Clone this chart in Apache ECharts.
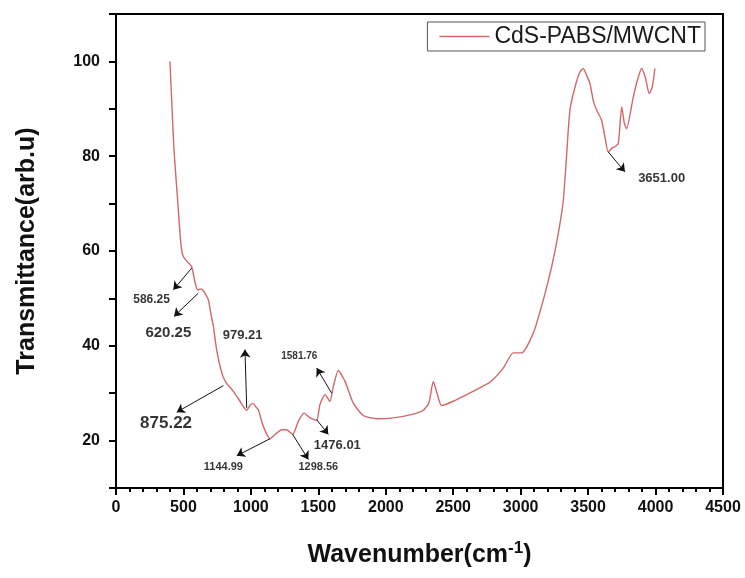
<!DOCTYPE html>
<html>
<head>
<meta charset="utf-8">
<script src="https://cdn.jsdelivr.net/npm/echarts@6/dist/echarts.min.js"></script>
<style>
  html, body { margin: 0; padding: 0; background: #fff; }
  #chart { width: 745px; height: 578px; }
</style>
</head>
<body>
<div id="chart"></div>
<script>
// FTIR spectrum
const wavenumber = [400, 413, 430, 457, 475, 487, 500, 529, 561, 585, 605, 630, 648, 665, 685, 705, 722, 746, 784, 815,
  870, 919, 969, 995, 1018, 1040, 1055, 1092, 1142, 1179, 1228, 1265, 1310, 1352, 1394, 1438, 1488, 1512, 1549, 1586,
  1611, 1648, 1698, 1759, 1833, 1932, 2056, 2204, 2278, 2320, 2352, 2380, 2414, 2500, 2600, 2700, 2772, 2871, 2945, 3007,
  3094, 3168, 3230, 3279, 3316, 3340, 3365, 3403, 3440, 3464, 3490, 3514, 3540, 3564, 3600, 3625, 3649, 3680, 3699, 3724,
  3749, 3768, 3785, 3835, 3870, 3897, 3925, 3953, 3975, 3995];
const transmittance = [100, 91.8, 81.3, 70.7, 63.5, 60.2, 58.8, 57.7, 56.7, 53.5, 51.8, 52.0, 51.6, 50.8, 49.7, 46.5, 44.1, 39.2, 34.3, 32.3,
  30.4, 28.3, 26.4, 27.5, 27.8, 27.0, 26.5, 23.0, 20.4, 21.3, 22.3, 22.3, 21.3, 24.1, 25.8, 24.8, 24.3, 27.6, 29.7, 28.3,
  31.4, 34.8, 32.5, 27.9, 25.3, 24.6, 24.8, 25.6, 26.4, 28.0, 32.5, 30.0, 27.4, 28.3, 29.7, 31.2, 32.3, 35.3, 38.5, 38.5,
  42.7, 49.7, 56.7, 63.7, 70.7, 80.0, 89.7, 94.6, 97.8, 98.5, 97.0, 95.3, 91.5, 89.7, 87.6, 84.0, 80.9, 81.8, 82.0, 82.7,
  90.4, 87.0, 85.8, 92.5, 96.5, 98.5, 96.5, 93.2, 94.5, 98.5];

// peak labels: text, label position, arrow start (on curve), arrow end, font size
const peakNames = ['586.25', '620.25', '979.21', '875.22', '1581.76', '1476.01', '1144.99', '1298.56', '3651.00'];
const labelPos = [[264, 49.7], [388, 42.7], [939, 42.1], [371, 23.6], [1359, 37.9], [1641, 19.0], [796, 14.4], [1500, 14.4], [4045, 75.3]];
const arrowFrom = [[561, 56.4], [610, 51.1], [969, 26.9], [796, 31.6], [1599, 30.0], [1488, 24.4], [1142, 20.4], [1310, 21.3], [3649, 80.9]];
const arrowTo = [[425, 51.8], [430, 46.2], [956, 39.2], [450, 26.0], [1488, 35.3], [1574, 21.3], [895, 16.8], [1426, 16.0], [3773, 76.7]];
const labelSize = [12, 15, 13, 17, 10, 13, 11, 11, 13];

const xTicks = { min: 0, max: 4500, interval: 500 };
const yTicks = { min: 10, max: 110, interval: 10 };

let myChart = echarts.init(document.getElementById('chart'));

myChart.setOption({
  animation: false,
  textStyle: { fontFamily: 'Liberation Sans, Arial, sans-serif' },
  grid: {
    left: 116, right: 22, top: 14, bottom: 90,
    show: true,
    borderColor: '#000',
    borderWidth: 2
  },
  legend: {
    data: ['CdS-PABS/MWCNT'],
    right: 40, top: 22,
    icon: 'rect',
    itemWidth: 50, itemHeight: 1.5,
    padding: [3, 4, 3, 12],
    borderColor: '#555',
    borderWidth: 1,
    borderRadius: 0,
    textStyle: { fontSize: 23, color: '#1a1a1a' }
  },
  xAxis: {
    type: 'value',
    min: xTicks.min, max: xTicks.max, interval: xTicks.interval,
    name: 'Wavenumber(cm{sup|-1})',
    nameLocation: 'middle',
    nameGap: 52,
    nameTextStyle: {
      fontSize: 25, fontWeight: 'bold', color: '#111',
      rich: {
        sup: { fontSize: 17, fontWeight: 'bold', color: '#111', verticalAlign: 'top', padding: [0, 0, 14, 0] }
      }
    },
    axisLine: { onZero: false, lineStyle: { color: '#000', width: 2 } },
    axisTick: { length: 7, lineStyle: { color: '#000', width: 2 } },
    minorTick: { show: true, splitNumber: 5, length: 4, lineStyle: { color: '#000', width: 2 } },
    splitLine: { show: false },
    axisLabel: { fontSize: 16, fontWeight: 'bold', color: '#111', margin: 12, formatter: v => String(v) }
  },
  yAxis: {
    type: 'value',
    min: yTicks.min, max: yTicks.max, interval: yTicks.interval,
    name: 'Transmittance(arb.u)',
    nameLocation: 'middle',
    nameGap: 76,
    nameTextStyle: { fontSize: 25, fontWeight: 'bold', color: '#111' },
    axisLine: { onZero: false, lineStyle: { color: '#000', width: 2 } },
    axisTick: { length: 7, lineStyle: { color: '#000', width: 2 } },
    splitLine: { show: false },
    axisLabel: {
      fontSize: 16, fontWeight: 'bold', color: '#111', margin: 16,
      formatter: v => (v % 20 === 0 ? String(v) : '')
    }
  },
  series: [
    {
      name: 'CdS-PABS/MWCNT',
      type: 'line',
      data: wavenumber.map((w, i) => [w, transmittance[i]]),
      symbol: 'none',
      smooth: 0.2,
      lineStyle: { color: '#d0676b', width: 1.4 },
      itemStyle: { color: '#d0676b' }
    },
    {
      name: 'peaks',
      type: 'scatter',
      symbolSize: 1,
      itemStyle: { color: 'rgba(0,0,0,0)' },
      silent: true,
      data: peakNames.map((n, i) => ({
        name: n,
        value: labelPos[i],
        label: { fontSize: labelSize[i] }
      })),
      label: {
        show: true,
        position: 'inside',
        formatter: p => p.name,
        fontWeight: 'bold',
        color: '#000'
      },
      markLine: {
        silent: true,
        symbol: ['none', 'arrow'],
        symbolSize: 8,
        label: { show: false },
        lineStyle: { color: '#111', width: 1, type: 'solid' },
        itemStyle: { color: '#111' },
        data: arrowFrom.map((a, i) => [{ coord: a }, { coord: arrowTo[i] }])
      }
    }
  ]
});

window.addEventListener('resize', () => {
  myChart.resize();
});
</script>
</body>
</html>
